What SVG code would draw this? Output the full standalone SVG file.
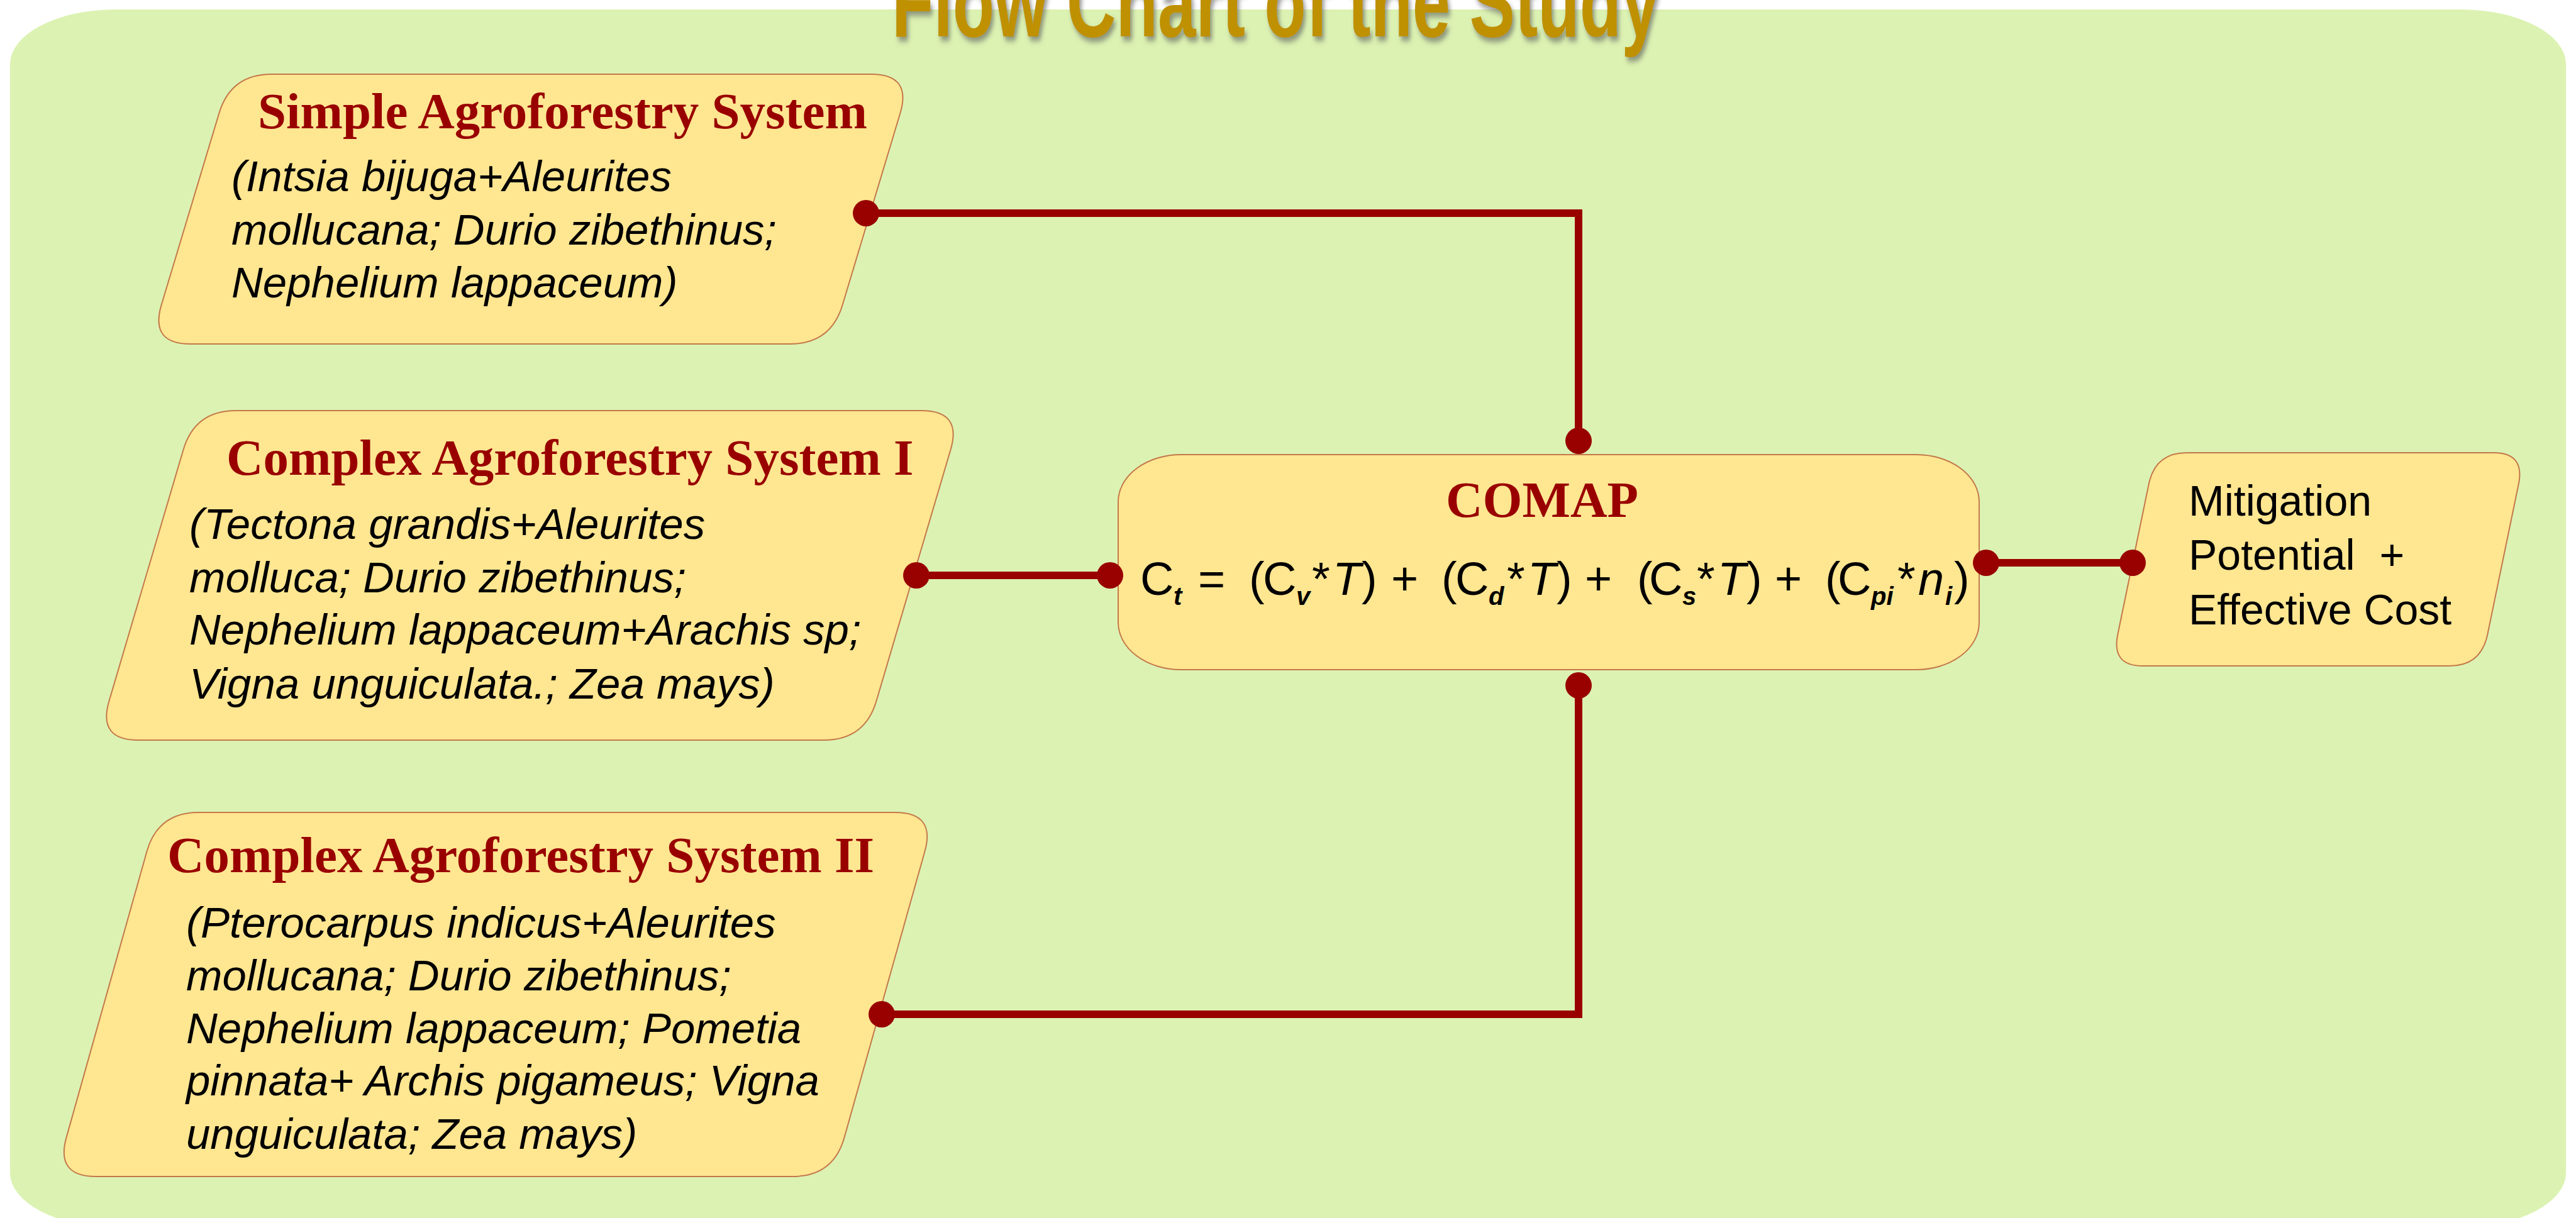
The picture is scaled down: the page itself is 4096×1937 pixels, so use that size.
<svg xmlns="http://www.w3.org/2000/svg" width="4096" height="1937" viewBox="0 0 4096 1937">
<style>
.node{fill:#FFE691;stroke:#C4784A;stroke-width:2}
.ttl{font-family:"Liberation Serif",serif;font-weight:bold;font-size:81px;fill:#990000}
.body{font-family:"Liberation Sans",sans-serif;font-style:italic;font-size:69px;fill:#000}
.plain{font-family:"Liberation Sans",sans-serif;font-size:68px;fill:#000}
.fm{font-family:"Liberation Sans",sans-serif;font-size:74px;fill:#000}
.it{font-style:italic}
.sub{font-style:italic;font-weight:bold;font-size:40px}
.conn{fill:none;stroke:#990000;stroke-width:12;marker-start:url(#dot);marker-end:url(#dot)}
</style>
<defs>
<marker id="dot" markerUnits="userSpaceOnUse" markerWidth="44" markerHeight="44" refX="22" refY="22" viewBox="0 0 44 44"><circle cx="22" cy="22" r="21" fill="#990000"/></marker>
<filter id="sh" x="-5%" y="-50%" width="110%" height="200%"><feDropShadow dx="5" dy="7" stdDeviation="5" flood-color="#555555" flood-opacity="0.6"/></filter>
</defs>
<rect x="0" y="0" width="4096" height="1937" fill="#FFFFFF"/>
<rect id="background" x="16" y="15" width="4064" height="1937" rx="168" ry="87" fill="#DCF2B2"/>
<g id="title">
<text transform="translate(1418,58) scale(0.68,1)" x="0" y="0" font-family="Liberation Sans, sans-serif" font-weight="bold" font-size="160" fill="#BF9000" filter="url(#sh)">Flow Chart of the Study</text>
</g>
<g id="node-simple">
<path class="node" d="M432,118 L1385,118 Q1450,118 1431.4,180 L1339.6,485 Q1321,547 1256,547 L303,547 Q238,547 256.6,485 L348.4,180 Q367,118 432,118 Z"/>
<text class="ttl" x="410" y="204">Simple Agroforestry System</text>
<text class="body" x="368" y="304">(Intsia bijuga+Aleurites</text>
<text class="body" x="368" y="389">mollucana; Durio zibethinus;</text>
<text class="body" x="368" y="473">Nephelium lappaceum)</text>
</g>
<g id="node-complex1">
<path class="node" d="M375,653 L1465,653 Q1530,653 1511.6,715 L1393.4,1115 Q1375,1177 1310,1177 L220,1177 Q155,1177 173.4,1115 L291.6,715 Q310,653 375,653 Z"/>
<text class="ttl" x="360" y="755">Complex Agroforestry System I</text>
<text class="body" x="301" y="857">(Tectona grandis+Aleurites</text>
<text class="body" x="301" y="942">molluca; Durio zibethinus;</text>
<text class="body" x="301" y="1025">Nephelium lappaceum+Arachis sp;</text>
<text class="body" x="301" y="1111">Vigna unguiculata.; Zea mays)</text>
</g>
<g id="node-complex2">
<path class="node" d="M316,1292 L1423,1292 Q1488,1292 1470.5,1354 L1342.5,1809 Q1325,1871 1260,1871 L153,1871 Q88,1871 105.5,1809 L233.5,1354 Q251,1292 316,1292 Z"/>
<text class="ttl" x="266" y="1387">Complex Agroforestry System II</text>
<text class="body" x="296" y="1491">(Pterocarpus indicus+Aleurites</text>
<text class="body" x="296" y="1575">mollucana; Durio zibethinus;</text>
<text class="body" x="296" y="1659">Nephelium lappaceum; Pometia</text>
<text class="body" x="296" y="1742">pinnata+ Archis pigameus; Vigna</text>
<text class="body" x="296" y="1827">unguiculata; Zea mays)</text>
</g>
<g id="node-comap">
<rect class="node" x="1778" y="723" width="1369" height="342" rx="100" ry="75"/>
<text class="ttl" x="2452" y="822" text-anchor="middle" font-size="78">COMAP</text>
<text class="fm" y="946"><tspan x="1813">C</tspan><tspan class="sub" x="1866" y="962">t</tspan><tspan x="1905" y="946">=</tspan><tspan x="1986">(</tspan><tspan x="2008">C</tspan><tspan class="sub" x="2061" y="962">v</tspan><tspan x="2086" y="946">*</tspan><tspan class="it" x="2119">T</tspan><tspan x="2165">)</tspan><tspan x="2212">+</tspan><tspan x="2292">(</tspan><tspan x="2314">C</tspan><tspan class="sub" x="2367" y="962">d</tspan><tspan x="2396" y="946">*</tspan><tspan class="it" x="2429">T</tspan><tspan x="2475">)</tspan><tspan x="2520">+</tspan><tspan x="2603">(</tspan><tspan x="2622">C</tspan><tspan class="sub" x="2675" y="962">s</tspan><tspan x="2698" y="946">*</tspan><tspan class="it" x="2731">T</tspan><tspan x="2777">)</tspan><tspan x="2822">+</tspan><tspan x="2902">(</tspan><tspan x="2922">C</tspan><tspan class="sub" x="2975" y="962">pi</tspan><tspan x="3017" y="946">*</tspan><tspan class="it" x="3050">n</tspan><tspan class="sub" x="3093" y="962">i</tspan><tspan x="3107" y="946">)</tspan></text>
</g>
<g id="node-mitigation">
<path class="node" d="M3477,720 L3965,720 Q4015,720 4004.7,770 L3955.3,1009 Q3945,1059 3895,1059 L3407,1059 Q3357,1059 3367.3,1009 L3416.7,770 Q3427,720 3477,720 Z"/>
<text class="plain" x="3480" y="820">Mitigation</text>
<text class="plain" x="3480" y="906" word-spacing="20">Potential +</text>
<text class="plain" x="3480" y="993">Effective Cost</text>
</g>
<g id="connectors">
<path class="conn" d="M1377,339 L2510,339 L2510,701"/>
<path class="conn" d="M1457,915 L1765,915"/>
<path class="conn" d="M1402,1613 L2510,1613 L2510,1090"/>
<path class="conn" d="M3158,895 L3391,895"/>
</g>
</svg>
